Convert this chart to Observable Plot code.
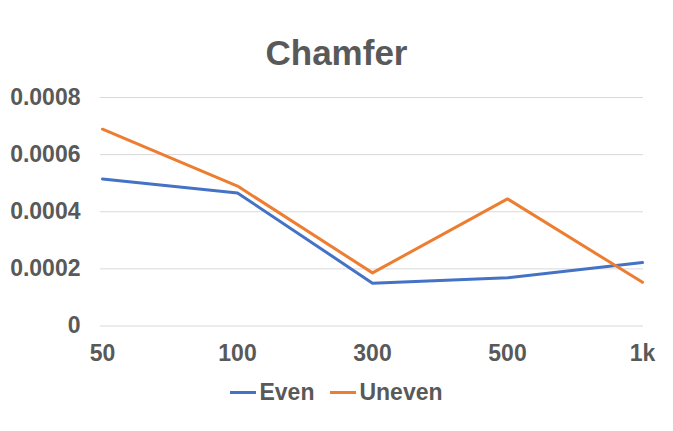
<!DOCTYPE html>
<html><head><meta charset="utf-8">
<script src="https://cdn.jsdelivr.net/npm/d3@7"></script>
<script src="https://cdn.jsdelivr.net/npm/@observablehq/plot@0.6"></script>
<style>
body{margin:0;background:#fff;font-family:"Liberation Sans",Arial,sans-serif;}
#wrap{position:relative;width:673px;height:431px;overflow:hidden;}
#title{position:absolute;left:0;top:33px;width:673px;text-align:center;font-weight:bold;font-size:35px;color:#595959;}
#legend{position:absolute;left:0;top:379px;width:673px;text-align:center;font-weight:bold;font-size:23px;color:#595959;}
#legend span.item{display:inline-block;margin:0 8px;}
#legend span.sw{display:inline-block;width:26px;height:3px;vertical-align:middle;margin-right:3px;position:relative;top:-1px;}
#chart{position:absolute;left:0;top:0;}
</style></head>
<body><div id="wrap"><div id="chart"></div><div id="title">Chamfer</div><div id="legend"></div></div>
<script>
const categories = ["50","100","300","500","1k"];
const seriesNames = ["Even","Uneven"];
const even = [0.000515,0.000466,0.000150,0.000169,0.000222];
const uneven = [0.000689,0.000490,0.000186,0.000445,0.000153];
const yTicks = [0,0.0002,0.0004,0.0006,0.0008];
const colors = ["#4472c4","#ed7d31"];

const data = [];
[even, uneven].forEach((arr,si)=>arr.forEach((v,i)=>data.push({cat:categories[i], series:seriesNames[si], value:v})));

const chart = Plot.plot({
  width:673, height:431,
  marginLeft:100, marginRight:30, marginTop:97, marginBottom:105.5,
  style:{fontFamily:"'Liberation Sans',Arial,sans-serif", fontSize:"23px", fontWeight:"bold", color:"#595959", background:"transparent"},
  x:{type:"point", domain:categories, padding:0, label:null, tickSize:0, tickPadding:19},
  y:{domain:[0,0.0008], ticks:yTicks, tickFormat:d=>d===0?"0":d.toFixed(4), label:null, tickSize:0, tickPadding:20, grid:false},
  color:{domain:seriesNames, range:colors},
  marks:[
    Plot.ruleY(yTicks,{stroke:"#d9d9d9", strokeWidth:1}),
    Plot.axisX({tickSize:0, tickPadding:19, fontSize:23, fontWeight:"bold", fill:"#595959"}),
    Plot.axisY({ticks:yTicks, tickSize:0, tickPadding:20, tickFormat:d=>d===0?"0":d.toFixed(4), fontSize:23, fontWeight:"bold", fill:"#595959"}),
    Plot.line(data,{x:"cat", y:"value", z:"series", stroke:"series", strokeWidth:3, strokeLinejoin:"round"})
  ]
});
document.getElementById("chart").appendChild(chart);
const lg = document.getElementById("legend");
seriesNames.forEach((n,i)=>{
  const s=document.createElement("span");s.className="item";
  s.innerHTML=`<span class="sw" style="background:${colors[i]}"></span>${n}`;
  lg.appendChild(s);
});
</script></body></html>
